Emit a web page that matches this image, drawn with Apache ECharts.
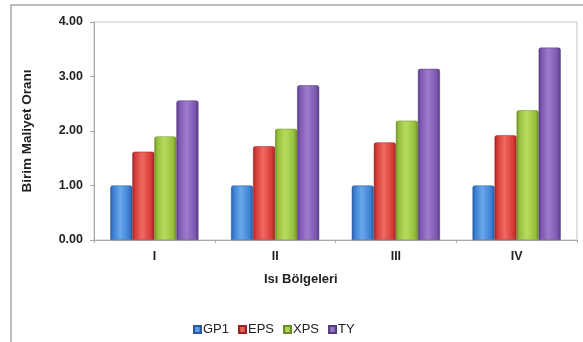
<!DOCTYPE html>
<html>
<head>
<meta charset="utf-8">
<script src="https://cdn.jsdelivr.net/npm/echarts@6/dist/echarts.min.js"></script>
<style>
  html, body { margin: 0; padding: 0; background: #fff; }
  #chart { width: 583px; height: 342px; }
</style>
</head>
<body>
<div id="chart"></div>
<script>
// Bölgelere göre birim maliyet oranları
const regions = ['I', 'II', 'III', 'IV'];
const gp1 = [1.00, 1.00, 1.00, 1.00];
const eps = [1.62, 1.72, 1.79, 1.92];
const xps = [1.90, 2.04, 2.19, 2.38];
const ty  = [2.56, 2.84, 3.14, 3.53];
const yTicks = [0, 1, 2, 3, 4];

const seriesDefs = [
  { name: 'GP1', data: gp1, base: '#3b7fd4', light: '#6aa8ec', dark: '#28599a' },
  { name: 'EPS', data: eps, base: '#d63a36', light: '#ef6a63', dark: '#9c2422' },
  { name: 'XPS', data: xps, base: '#95c03a', light: '#b8dc5e', dark: '#6b8c24' },
  { name: 'TY',  data: ty,  base: '#7c56b0', light: '#9d7ccc', dark: '#553a80' }
];

function barFill(s) {
  return new echarts.graphic.LinearGradient(0, 0, 1, 0, [
    { offset: 0, color: s.dark },
    { offset: 0.12, color: s.base },
    { offset: 0.45, color: s.light },
    { offset: 0.85, color: s.base },
    { offset: 1, color: s.dark }
  ]);
}

const FONT = 'Liberation Sans, Arial, sans-serif';

const chart = echarts.init(document.getElementById('chart'));
chart.setOption({
  animation: false,
  textStyle: { fontFamily: FONT },
  graphic: [
    {
      type: 'rect', shape: { x: 11, y: 5, width: 600, height: 360 },
      style: { fill: 'none', stroke: '#bdbdbd', lineWidth: 2 }, z: -1
    },
    {
      type: 'text', left: 264, top: 273,
      style: { text: 'Isı Bölgeleri', font: 'bold 13px ' + FONT, fill: '#222' }
    }
  ],
  legend: {
    data: seriesDefs.map(s => s.name),
    left: 188, top: 318,
    itemWidth: 7, itemHeight: 7, itemGap: 9,
    icon: 'rect',
    textStyle: { fontSize: 13, color: '#222', padding: [0, 0, 0, -3] }
  },
  grid: {
    left: 94, top: 22, right: 6, bottom: 102,
    show: true, borderColor: '#c4c4c4', borderWidth: 1
  },
  xAxis: {
    type: 'category',
    data: regions,
    axisLine: { lineStyle: { color: '#a8a8a8' } },
    axisTick: { show: true, length: 3, lineStyle: { color: '#a8a8a8' } },
    axisLabel: { color: '#222', fontSize: 12.5, fontWeight: 'bold', margin: 10 }
  },
  yAxis: {
    type: 'value',
    min: yTicks[0], max: yTicks[yTicks.length - 1], interval: 1,
    name: 'Birim Maliyet Oranı',
    nameLocation: 'middle', nameGap: 60,
    nameTextStyle: { fontSize: 13.5, fontWeight: 'bold', color: '#222' },
    axisLine: { show: true, lineStyle: { color: '#a8a8a8' } },
    axisTick: { show: true, length: 4, lineStyle: { color: '#a8a8a8' } },
    splitLine: { show: false },
    axisLabel: {
      color: '#222', fontSize: 12.5, fontWeight: 'bold', margin: 11,
      formatter: v => v.toFixed(2)
    }
  },
  series: seriesDefs.map(s => ({
    name: s.name,
    type: 'bar',
    data: s.data,
    barGap: '0%',
    barCategoryGap: '27%',
    itemStyle: { color: barFill(s), borderColor: s.dark, borderWidth: 0.5, borderRadius: [2, 2, 0, 0] }
  })),
  color: seriesDefs.map(s => s.base)
});
</script>
</body>
</html>
